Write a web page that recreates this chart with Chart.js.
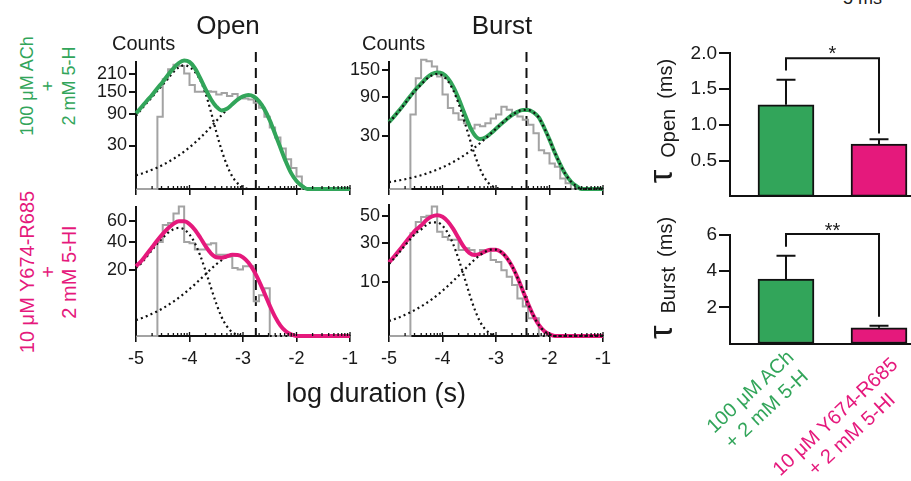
<!DOCTYPE html>
<html><head><meta charset="utf-8">
<script src="https://cdn.jsdelivr.net/npm/chart.js@4.4.1/dist/chart.umd.min.js"></script>
<style>
html,body{margin:0;padding:0;background:#fff;}
body{width:911px;height:481px;position:relative;overflow:hidden;font-family:'Liberation Sans',Arial,Helvetica,sans-serif;color:#1a1a1a;}
canvas{position:absolute;}
.t{position:absolute;white-space:nowrap;line-height:1;}
.grp{position:absolute;white-space:nowrap;text-align:center;line-height:21px;transform:translate(-50%,-50%) rotate(-90deg);}
.cat{position:absolute;white-space:nowrap;text-align:center;line-height:24px;font-size:20px;transform:translate(-50%,-50%) rotate(-43deg);}
.ylab{position:absolute;white-space:nowrap;line-height:1;font-size:20px;transform:translate(-50%,-50%) rotate(-90deg);}
.ylab .tau{font-size:34px;margin-right:12px;}
.ylab .sub{margin-right:10px;position:relative;top:3px;}
</style></head><body>
<canvas id="cA" width="280" height="170" style="left:80px;top:30px"></canvas>
<canvas id="cB" width="283" height="170" style="left:330px;top:30px"></canvas>
<canvas id="cC" width="280" height="180" style="left:80px;top:200px"></canvas>
<canvas id="cD" width="283" height="180" style="left:330px;top:200px"></canvas>
<canvas id="cE" width="231" height="170" style="left:680px;top:40px"></canvas>
<canvas id="cF" width="231" height="140" style="left:680px;top:215px"></canvas>

<div class="t" style="left:228px;top:11.5px;font-size:26px;transform:translateX(-50%)">Open</div>
<div class="t" style="left:502px;top:11.5px;font-size:26px;transform:translateX(-50%)">Burst</div>
<div class="t" style="left:112px;top:33px;font-size:20px">Counts</div>
<div class="t" style="left:362px;top:33px;font-size:20px">Counts</div>
<div class="t" style="left:376px;top:380px;font-size:27px;transform:translateX(-50%)">log duration (s)</div>
<div class="t" style="left:843px;top:-11px;font-size:18px">5 ms</div>

<div class="grp" style="left:48px;top:86px;font-size:18px;color:#32a55a">100 μM ACh<br>+<br>2 mM 5-H</div>
<div class="grp" style="left:48px;top:272px;font-size:20px;color:#e5197c">10 μM Y674-R685<br>+<br>2 mM 5-HI</div>

<div class="ylab" style="left:660px;top:121px"><span class="tau">τ</span><span class="sub">Open</span><span>(ms)</span></div>
<div class="ylab" style="left:660px;top:278px"><span class="tau">τ</span><span class="sub">Burst</span><span>(ms)</span></div>

<div class="cat" id="catG" style="left:758px;top:400px;color:#32a55a"></div>
<div class="cat" id="catP" style="left:843px;top:425px;color:#e5197c"></div>

<script>
// ---------------- data ----------------
const logX = [-5,-4.9,-4.8,-4.7,-4.6,-4.5,-4.4,-4.3,-4.2,-4.1,-4,-3.9,-3.8,-3.7,-3.6,-3.5,-3.4,-3.3,-3.2,-3.1,-3,-2.9,-2.8,-2.7,-2.6,-2.5,-2.4,-2.3,-2.2,-2.1,-2,-1.9,-1.8,-1.7,-1.6,-1.5,-1.4,-1.3,-1.2,-1.1,-1];
const xTickVals = [-5,-4,-3,-2,-1];
const minorOffsets = [0.301,0.477,0.602,0.699,0.778,0.845,0.903,0.954];

// Open, 100 uM ACh + 2 mM 5-H
const histOpenG = [0,0,0,0,0,83,191,228,245,240,212,172,150,150,152,150,142,146,137,143,132,130,127,118,105,83,60,42,26,14,7,2.5,0,0,0,0,0,0,0,0];
const fitOpenG  = [91,106,123,140,161,182,207,231,252,262,256,232,195,158,128,108,98,102,114,127,136,140,136,122,101,75,48,27,12,4,1,0.15,0,0,0,0,0,0,0,0,0];
const c1OpenG   = [85,101,117,134,153,172,195,217,235,243,236,218,188,145,95,52,24,9,2.5,0.5,0.05,0,0,0,0,0,0,0,0,0,0,0,0,0,0,0,0,0,0,0,0];
const c2OpenG   = [2.95,3.7,4.7,5.9,7.3,9.2,11.5,14.4,17.9,22.2,27.5,33.9,41.6,50.7,61.3,73.3,86.5,100,114,126,134.6,138,134,122,102,76,50,28,12.5,4.3,1.1,0.17,0.02,0,0,0,0,0,0,0,0];
const yTicksOpenG = [30,90,150,210];

// Burst, 100 uM ACh + 2 mM 5-H
const histBurstG = [0,0,0,0,0,59,131,178,174,160,135,95,70,61,51,46,39,44,42,46,53,59,72,67,59,56,51,44,33,16,13.6,7,5.3,1.2,0.34,0,0,0,0,0];
const fitBurstG  = [47.5,56.6,66.8,79,92.3,106.1,118.4,131.2,140.8,145,142,130.7,111.8,87.8,63.3,43.3,31.1,26.7,28.2,32.8,38.7,45.3,52,58.4,63.5,66.6,66.5,62.7,54.7,40,26,14,6.5,2.3,0.6,0.1,0,0,0,0,0];
const c1BurstG   = [47,56,66,78,91,104.5,116.4,128.7,137.6,141,137,124.5,104,78.1,51.3,28.5,12.8,4.4,1.08,0.17,0.016,0,0,0,0,0,0,0,0,0,0,0,0,0,0,0,0,0,0,0,0];
const c2BurstG   = [0.51,0.64,0.81,1.02,1.28,1.61,2.02,2.54,3.18,3.99,4.99,6.24,7.78,9.68,12,14.8,18.3,22.3,27.1,32.6,38.7,45.3,52,58.4,63.5,66.6,66.5,62.7,54.7,40,26,14,6.5,2.3,0.6,0.1,0,0,0,0,0];
const yTicksBurstG = [30,90,150];

// Open, 10 uM Y674-R685 + 2 mM 5-HI
const histOpenP = [0,0,0,0,0,40,56,58,68,76,40,39,34,34,38,39,30,30,28.5,21,20,22,22,5.5,7.5,10.3,0,0,0,0,0,0,0,0,0,0,0,0,0,0];
const fitOpenP  = [22.1,25.5,30.3,35.7,41.5,47.3,52.7,57.1,59.7,59.7,56.8,51.2,44,36.6,31,28.1,27.8,28.8,29.9,29.8,28.1,24.5,19.5,13.7,8.33,4.19,1.66,0.49,0.1,0.012,0,0,0,0,0,0,0,0,0,0,0];
const c1OpenP   = [21,24.1,28.5,33.5,38.7,43.8,48.4,51.7,53,51.5,46.8,39.1,29.4,19.3,10.7,4.8,1.65,0.41,0.065,0.006,0,0,0,0,0,0,0,0,0,0,0,0,0,0,0,0,0,0,0,0,0];
const c2OpenP   = [1.14,1.42,1.79,2.23,2.79,3.48,4.34,5.38,6.65,8.18,10,12.1,14.6,17.3,20.3,23.3,26.1,28.4,29.8,29.8,28.1,24.5,19.5,13.7,8.33,4.19,1.66,0.49,0.1,0.012,0,0,0,0,0,0,0,0,0,0,0];
const yTicksOpenP = [20,40,60];

// Burst, 10 uM Y674-R685 + 2 mM 5-HI
const histBurstP = [0,0,0,0,0,36.5,45,49,50,58,37.7,34,32,32,25.6,26.6,25.6,23.3,25.6,25,20,19,15,12.2,9,4.9,3,1.1,1.1,0,0,0,0,0,0,0,0,0,0,0];
const fitBurstP  = [18.8,22,25.7,30,34.4,38.9,42.2,46.5,49.4,50.5,49.2,45.4,39.7,33.2,27.5,23.9,22.7,23.3,24.8,25.8,25.8,24.3,21.2,16.9,11.9,7.2,3.6,1.44,0.42,0.085,0.01,0,0,0,0,0,0,0,0,0,0];
const c1BurstP   = [18,21,24.5,28.5,32.5,36.5,39.2,42.7,44.7,44.7,42.1,36.7,29.2,20.6,12.5,6.3,2.5,0.73,0.15,0.018,0,0,0,0,0,0,0,0,0,0,0,0,0,0,0,0,0,0,0,0,0];
const c2BurstP   = [0.78,0.98,1.23,1.55,1.94,2.42,3.02,3.76,4.66,5.76,7.09,8.67,10.5,12.6,15,17.6,20.2,22.6,24.6,25.8,25.8,24.3,21.2,16.9,11.9,7.2,3.6,1.44,0.42,0.085,0.01,0,0,0,0,0,0,0,0,0,0];
const yTicksBurstP = [10,30,50];

// bar charts
const conditions = [["100 μM ACh","+ 2 mM 5-H"],["10 μM Y674-R685","+ 2 mM 5-HI"]];
const tauOpen = [1.28, 0.73];
const tauOpenErr = [0.35, 0.07];
const tauBurst = [3.56, 0.87];
const tauBurstErr = [1.29, 0.11];
const tauOpenTicks = [0.5,1.0,1.5,2.0];
const tauBurstTicks = [2,4,6];

// ---------------- styles ----------------
const GREEN = '#32a55a', PINK = '#e5197c', GRAY = '#a3a3a3';
Chart.defaults.font.family = "'Liberation Sans', Arial, Helvetica, sans-serif";
Chart.defaults.color = '#1a1a1a';

document.getElementById('catG').innerHTML = conditions[0].join('<br>');
document.getElementById('catP').innerHTML = conditions[1].join('<br>');

// square-root count axis
class SqrtScale extends Chart.LinearScale {
  static id = 'sqrt';
  configure() {
    super.configure();
    this._sqMin = Math.sqrt(Math.max(this.min, 0));
    this._sqMax = Math.sqrt(Math.max(this.max, 0));
  }
  getPixelForValue(value) {
    if (value === null || value === undefined || isNaN(value)) return NaN;
    const d = (Math.sqrt(Math.max(value, 0)) - this._sqMin) / (this._sqMax - this._sqMin);
    return this.getPixelForDecimal(d);
  }
  getValueForPixel(pixel) {
    const d = this.getDecimalForPixel(pixel);
    const s = this._sqMin + d * (this._sqMax - this._sqMin);
    return s * s;
  }
}
Chart.register(SqrtScale);

const histDecor = {
  id: 'histDecor',
  beforeDatasetsDraw(chart, args, o) {
    const {ctx, chartArea} = chart;
    const x = chart.scales.x;
    const px = x.getPixelForValue(o.dashX);
    const top = o.dashFromCanvasTop ? 0 : chartArea.top + o.dashTopOff;
    const bottom = o.dashToCanvasBottom ? chart.height : chartArea.bottom;
    ctx.save();
    ctx.strokeStyle = '#111'; ctx.lineWidth = 2; ctx.setLineDash([10, 6]);
    ctx.beginPath(); ctx.moveTo(px, top); ctx.lineTo(px, bottom); ctx.stroke();
    ctx.restore();
  },
  afterDatasetsDraw(chart) {
    const {ctx, chartArea} = chart;
    const x = chart.scales.x;
    const b = chartArea.bottom;
    ctx.save();
    ctx.strokeStyle = '#111'; ctx.lineWidth = 1.3;
    ctx.beginPath();
    for (let d = -5; d < -1; d++) {
      for (const m of minorOffsets) {
        const p = x.getPixelForValue(d + m);
        ctx.moveTo(p, b); ctx.lineTo(p, b - 3);
      }
    }
    for (const v of xTickVals) {
      const p = x.getPixelForValue(v);
      ctx.moveTo(p, b); ctx.lineTo(p, b - 4);
    }
    ctx.stroke();
    ctx.restore();
  }
};

function pts(arr) { return arr.map((v, i) => ({x: logX[i], y: v})); }
function histPts(arr) { const p = arr.map((v, i) => ({x: logX[i], y: v})); p.push({x: logX[arr.length], y: 0}); return p; }

function makeHist(id, d, c) {
  const fit = {data: pts(d.fit), borderColor: c.color, borderWidth: c.fitW, pointRadius: 0, cubicInterpolationMode: 'monotone', clip: false, order: c.fitTop ? 0 : 3};
  const c1 = {data: pts(d.c1), borderColor: '#111', borderWidth: 2.2, borderDash: [2, 3.2], pointRadius: 0, cubicInterpolationMode: 'monotone', clip: false, order: 1};
  const c2 = {data: pts(d.c2), borderColor: '#111', borderWidth: 2.2, borderDash: [2, 3.2], pointRadius: 0, cubicInterpolationMode: 'monotone', clip: false, order: 2};
  const hist = {data: histPts(d.hist), borderColor: GRAY, borderWidth: 2, pointRadius: 0, stepped: 'after', clip: false, order: 4};
  new Chart(document.getElementById(id), {
    type: 'line',
    data: {datasets: [fit, c1, c2, hist]},
    options: {
      responsive: false, animation: false, devicePixelRatio: 1,
      layout: {padding: {top: c.padTop, right: 10, left: 0, bottom: 0}},
      plugins: {legend: {display: false}, tooltip: {enabled: false},
        histDecor: {dashX: c.dashX, dashTopOff: c.dashTopOff || 0, dashFromCanvasTop: !!c.dashFromCanvasTop, dashToCanvasBottom: !!c.dashToCanvasBottom}},
      scales: {
        x: {type: 'linear', min: -5, max: -1,
          afterBuildTicks: s => { s.ticks = xTickVals.map(v => ({value: v})); },
          afterFit: s => { s.height = c.xAxisH; s.paddingLeft = 0; s.paddingRight = 0; },
          border: {display: true, color: '#111', width: 2},
          grid: {display: true, drawOnChartArea: false, drawTicks: true, tickLength: 6, color: '#111', lineWidth: 1.6},
          ticks: {display: c.xLabels, font: {size: 18}, padding: 6, maxRotation: 0, autoSkip: false, callback: v => String(v)}},
        y: {type: 'sqrt', min: 0, max: c.yMax,
          afterBuildTicks: s => { s.ticks = d.yTicks.map(v => ({value: v})); },
          afterFit: s => { s.width = c.yAxisW; s.paddingTop = 0; s.paddingBottom = 0; },
          border: {display: true, color: '#111', width: 2},
          grid: {display: true, drawOnChartArea: false, drawTicks: true, tickLength: 7, color: '#111', lineWidth: 2},
          ticks: {font: {size: 18}, padding: 2, autoSkip: false, callback: v => String(v)}}
      }
    },
    plugins: [histDecor]
  });
}

makeHist('cA', {hist: histOpenG, fit: fitOpenG, c1: c1OpenG, c2: c2OpenG, yTicks: yTicksOpenG},
  {color: GREEN, fitW: 4, fitTop: true, padTop: 32, xAxisH: 11, yAxisW: 56, yMax: 256, xLabels: false, dashX: -2.76, dashTopOff: -10, dashToCanvasBottom: true});
makeHist('cB', {hist: histBurstG, fit: fitBurstG, c1: c1BurstG, c2: c2BurstG, yTicks: yTicksBurstG},
  {color: GREEN, fitW: 4, fitTop: false, padTop: 32, xAxisH: 11, yAxisW: 59, yMax: 172, xLabels: false, dashX: -2.43, dashTopOff: -10, dashToCanvasBottom: true});
makeHist('cC', {hist: histOpenP, fit: fitOpenP, c1: c1OpenP, c2: c2OpenP, yTicks: yTicksOpenP},
  {color: PINK, fitW: 4, fitTop: true, padTop: 7, xAxisH: 44, yAxisW: 56, yMax: 75.5, xLabels: true, dashX: -2.76, dashFromCanvasTop: true});
makeHist('cD', {hist: histBurstP, fit: fitBurstP, c1: c1BurstP, c2: c2BurstP, yTicks: yTicksBurstP},
  {color: PINK, fitW: 4, fitTop: false, padTop: 5, xAxisH: 44, yAxisW: 59, yMax: 59.4, xLabels: true, dashX: -2.43, dashFromCanvasTop: true});

const barDecor = {
  id: 'barDecor',
  afterDatasetsDraw(chart, args, o) {
    const {ctx} = chart;
    const x = chart.scales.x, y = chart.scales.y;
    ctx.save();
    ctx.strokeStyle = '#111'; ctx.lineWidth = 2;
    ctx.beginPath();
    o.vals.forEach((v, i) => {
      const px = x.getPixelForValue(i);
      const y0 = y.getPixelForValue(v), y1 = y.getPixelForValue(v + o.err[i]);
      ctx.moveTo(px, y0); ctx.lineTo(px, y1);
      ctx.moveTo(px - 9.5, y1); ctx.lineTo(px + 9.5, y1);
    });
    const xl = x.getPixelForValue(0), xr = x.getPixelForValue(1);
    const yb = y.getPixelForValue(o.bracket[0]);
    ctx.moveTo(xl, y.getPixelForValue(o.bracket[1])); ctx.lineTo(xl, yb); ctx.lineTo(xr, yb); ctx.lineTo(xr, y.getPixelForValue(o.bracket[2]));
    ctx.stroke();
    ctx.fillStyle = '#1a1a1a';
    ctx.font = "20px 'Liberation Sans', Arial, sans-serif";
    ctx.textAlign = 'center'; ctx.textBaseline = 'alphabetic';
    ctx.fillText(o.star, (xl + xr) / 2, y.getPixelForValue(o.starY));
    ctx.restore();
  }
};

function makeBar(id, vals, err, ticks, c) {
  new Chart(document.getElementById(id), {
    type: 'bar',
    data: {datasets: [{data: vals.map((v, i) => ({x: i, y: v})), backgroundColor: [GREEN, PINK], borderColor: '#111', borderWidth: 2, borderSkipped: false, barThickness: 56}]},
    options: {
      responsive: false, animation: false, devicePixelRatio: 1,
      layout: {padding: {top: c.padTop, right: 0, left: 0, bottom: 0}},
      plugins: {legend: {display: false}, tooltip: {enabled: false},
        barDecor: {vals: vals, err: err, bracket: c.bracket, star: c.star, starY: c.starY}},
      scales: {
        x: {type: 'linear', min: -0.602, max: 1.344, offset: false,
          afterFit: s => { s.height = c.xAxisH; s.paddingLeft = 0; s.paddingRight = 0; },
          border: {display: true, color: '#111', width: 2},
          grid: {display: true, drawOnChartArea: false, drawTicks: false, offset: false},
          ticks: {display: false}},
        y: {min: 0, max: c.yMax,
          afterBuildTicks: s => { s.ticks = ticks.map(v => ({value: v})); },
          afterFit: s => { s.width = 50; s.paddingTop = 0; s.paddingBottom = 0; },
          border: {display: true, color: '#111', width: 2},
          grid: {display: true, drawOnChartArea: false, drawTicks: true, tickLength: 11, color: '#111', lineWidth: 2},
          ticks: {font: {size: 19}, padding: 2, autoSkip: false, callback: c.fmt}}
      }
    },
    plugins: [barDecor]
  });
}

makeBar('cE', tauOpen, tauOpenErr, tauOpenTicks,
  {padTop: 13.3, xAxisH: 13.6, yMax: 2.0, fmt: v => v.toFixed(1), bracket: [1.93, 1.76, 0.88], star: '*', starY: 1.90});
makeBar('cF', tauBurst, tauBurstErr, tauBurstTicks,
  {padTop: 20, xAxisH: 11.5, yMax: 6, fmt: v => String(v), bracket: [6.05, 5.35, 1.48], star: '**', starY: 5.91});
</script>
</body></html>
